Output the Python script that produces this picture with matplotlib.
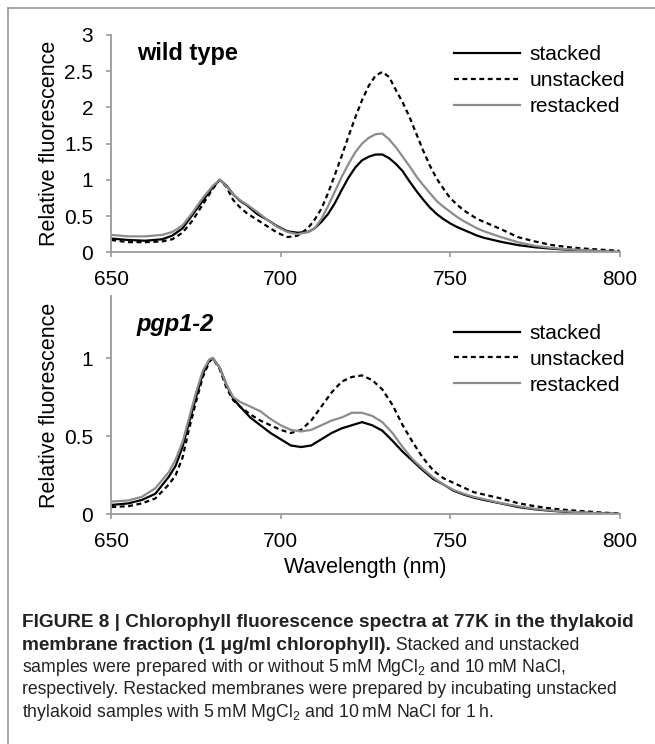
import matplotlib
matplotlib.use('Agg')
import matplotlib.pyplot as plt
from matplotlib import font_manager
from matplotlib.lines import Line2D

# values (Relative fluorescence, normalised at ~680 nm)
wl_wt = [650, 655, 660, 665, 668, 671, 674, 677, 680, 682, 684, 686, 688, 690, 693, 696, 699,
         702, 705, 708, 710, 712, 714, 716, 718, 720, 722, 724, 726, 728, 730, 732, 734, 736,
         738, 740, 742, 744, 746, 748, 750, 752, 754, 756, 758, 760, 765, 770, 775, 780, 785,
         790, 795, 800]
wt_stacked = [0.19, 0.17, 0.16, 0.18, 0.23, 0.33, 0.52, 0.71, 0.90, 1.00, 0.92, 0.80, 0.71, 0.65,
              0.53, 0.45, 0.36, 0.29, 0.27, 0.28, 0.33, 0.42, 0.53, 0.68, 0.86, 1.03, 1.17, 1.27,
              1.32, 1.35, 1.35, 1.30, 1.22, 1.12, 0.98, 0.85, 0.73, 0.62, 0.53, 0.46, 0.40, 0.35,
              0.31, 0.27, 0.23, 0.20, 0.145, 0.10, 0.07, 0.05, 0.035, 0.025, 0.013, 0.003]
wt_unstacked = [0.17, 0.14, 0.14, 0.15, 0.18, 0.27, 0.44, 0.66, 0.88, 1.00, 0.90, 0.72, 0.62, 0.54,
                0.45, 0.36, 0.27, 0.21, 0.23, 0.33, 0.45, 0.60, 0.82, 1.07, 1.33, 1.60, 1.86, 2.10,
                2.30, 2.44, 2.49, 2.42, 2.24, 2.07, 1.87, 1.64, 1.41, 1.20, 1.02, 0.88, 0.75, 0.66,
                0.58, 0.52, 0.46, 0.42, 0.32, 0.21, 0.15, 0.10, 0.07, 0.05, 0.035, 0.02]
wt_restacked = [0.24, 0.22, 0.22, 0.24, 0.28, 0.37, 0.55, 0.75, 0.92, 1.00, 0.91, 0.80, 0.72, 0.66,
                0.56, 0.45, 0.35, 0.28, 0.25, 0.28, 0.33, 0.46, 0.64, 0.84, 1.04, 1.22, 1.38, 1.50,
                1.58, 1.63, 1.64, 1.56, 1.45, 1.32, 1.19, 1.05, 0.93, 0.82, 0.71, 0.63, 0.56, 0.49,
                0.43, 0.38, 0.33, 0.29, 0.21, 0.14, 0.09, 0.06, 0.04, 0.03, 0.015, 0.005]

wl_pgp = [650, 655, 659, 663, 667, 669, 671, 673, 675, 677, 679, 680, 682, 684, 686, 688, 691, 694,
          697, 700, 703, 706, 709, 712, 715, 718, 721, 724, 727, 730, 733, 736, 739, 742, 745, 748,
          751, 754, 757, 760, 765, 770, 775, 780, 785, 790, 795, 800]
pgp_stacked = [0.058, 0.068, 0.09, 0.13, 0.24, 0.31, 0.43, 0.59, 0.75, 0.90, 0.99, 1.00, 0.94, 0.83,
               0.74, 0.69, 0.62, 0.57, 0.52, 0.48, 0.44, 0.43, 0.44, 0.48, 0.52, 0.55, 0.57, 0.59,
               0.57, 0.535, 0.47, 0.40, 0.34, 0.28, 0.225, 0.19, 0.15, 0.125, 0.105, 0.09, 0.068,
               0.045, 0.03, 0.02, 0.013, 0.008, 0.004, 0.0]
pgp_unstacked = [0.045, 0.05, 0.068, 0.10, 0.19, 0.25, 0.36, 0.55, 0.72, 0.88, 0.98, 1.00, 0.93, 0.81,
                 0.73, 0.69, 0.64, 0.60, 0.57, 0.54, 0.52, 0.54, 0.60, 0.69, 0.78, 0.85, 0.88, 0.89,
                 0.86, 0.80, 0.70, 0.57, 0.46, 0.36, 0.28, 0.23, 0.20, 0.17, 0.14, 0.125, 0.10,
                 0.07, 0.05, 0.035, 0.025, 0.017, 0.009, 0.003]
pgp_restacked = [0.08, 0.087, 0.11, 0.165, 0.27, 0.35, 0.46, 0.62, 0.78, 0.92, 0.995, 1.00, 0.94, 0.83,
                 0.75, 0.72, 0.69, 0.66, 0.61, 0.57, 0.54, 0.53, 0.54, 0.57, 0.60, 0.62, 0.65, 0.65,
                 0.63, 0.59, 0.52, 0.43, 0.35, 0.29, 0.235, 0.19, 0.155, 0.13, 0.11, 0.095, 0.07,
                 0.05, 0.033, 0.022, 0.015, 0.009, 0.004, 0.001]

series_labels = ['stacked', 'unstacked', 'restacked']
x_ticks = [650, 700, 750, 800]
wt_yticks = [0, 0.5, 1, 1.5, 2, 2.5, 3]
pgp_yticks = [0, 0.5, 1]
panel_names = ['wild type', 'pgp1-2']

caption_lines = [
    'FIGURE 8 | Chlorophyll fluorescence spectra at 77K in the thylakoid',
    'membrane fraction (1 \u03bcg/ml chlorophyll).',
    ' Stacked and unstacked',
    'samples were prepared with or without 5\u2009mM MgCl$_\\mathregular{2}$ and 10\u2009mM NaCl,',
    'respectively. Restacked membranes were prepared by incubating unstacked',
    'thylakoid samples with 5\u2009mM MgCl$_\\mathregular{2}$ and 10\u2009mM NaCl for 1\u2009h.',
]

installed = {f.name for f in font_manager.fontManager.ttflist}
main_font = 'Liberation Sans' if 'Liberation Sans' in installed else 'DejaVu Sans'
cap_font = 'Liberation Sans Narrow' if 'Liberation Sans Narrow' in installed else main_font

plt.rcParams['font.family'] = [main_font, 'DejaVu Sans']
plt.rcParams['mathtext.fontset'] = 'custom'
plt.rcParams['mathtext.rm'] = cap_font

W, H = 655, 744
fig = plt.figure(figsize=(W / 100, H / 100), dpi=100)
fig.patch.set_facecolor('white')

grey_axis = '#9a9a9a'
line_styles = [dict(color='black', lw=1.6, ls='-'),
               dict(color='black', lw=1.6, ls=(0, (2.2, 1.6))),
               dict(color='#8c8c8c', lw=1.6, ls='-')]

ax1 = fig.add_axes([111.3 / W, 1 - 252.3 / H, 508.2 / W, 217.3 / H])
ax2 = fig.add_axes([111.3 / W, 1 - 514 / H, 508.2 / W, 218 / H])


def draw_panel(ax, wl, curves, yticks, ymax, name, italic, leg_y, name_y):
    for vals, lab, st in zip(curves, series_labels, line_styles):
        ax.plot(wl, vals, label=lab, **st)
    ax.set_xlim(650, 800)
    ax.set_ylim(0, ymax)
    ax.set_xticks(x_ticks)
    ax.set_xticklabels([str(t) for t in x_ticks])
    ax.set_yticks(yticks)
    ax.set_yticklabels(['%g' % t for t in yticks])
    for s in ['top', 'right']:
        ax.spines[s].set_visible(False)
    for s in ['left', 'bottom']:
        ax.spines[s].set_color(grey_axis)
        ax.spines[s].set_linewidth(1.3)
    ax.tick_params(axis='both', direction='out', length=3.5, width=1.2, color=grey_axis,
                   labelsize=15, pad=9.5)
    ax.set_ylabel('Relative fluorescence', fontsize=15.5)
    ax.yaxis.set_label_coords(-0.1, 0.5)
    ax.text(0.05, name_y, name, transform=ax.transAxes, fontsize=17, fontweight='bold',
            fontstyle='italic' if italic else 'normal', va='baseline', ha='left')
    ax.legend(loc='center left', bbox_to_anchor=(0.674, leg_y), frameon=False, fontsize=15,
              handlelength=3.2, handletextpad=0.42, labelspacing=0.33, borderpad=0,
              borderaxespad=0)


draw_panel(ax1, wl_wt, [wt_stacked, wt_unstacked, wt_restacked], wt_yticks, 3,
           panel_names[0], False, 0.789, 0.885)
draw_panel(ax2, wl_pgp, [pgp_stacked, pgp_unstacked, pgp_restacked], pgp_yticks, 1.4,
           panel_names[1], True, 0.71, 0.841)
ax2.set_xlabel('Wavelength (nm)', fontsize=15.5)
ax2.xaxis.set_label_coords(0.5, -0.195)

# frame round the figure panel
fig.add_artist(Line2D([7.5 / W, 1], [1 - 8.3 / H] * 2, transform=fig.transFigure,
                      color='#8f8f8f', lw=1.1))
fig.add_artist(Line2D([7.5 / W] * 2, [0, 1 - 8.3 / H], transform=fig.transFigure,
                      color='#8f8f8f', lw=1.1))

# caption, sized so that lines span the same width as in the original
fig.canvas.draw()
r = fig.canvas.get_renderer()
x0 = 22 / W
probe = fig.text(x0, 0, caption_lines[4], fontsize=14, family=cap_font)
cap_size = 14 * 602 / probe.get_window_extent(r).width
probe.remove()
probe = fig.text(x0, 0, caption_lines[0], fontsize=14, family=cap_font, fontweight='bold')
bold_size = 14 * 611 / probe.get_window_extent(r).width
probe.remove()

baselines = [627, 649.5, 672, 694.5, 717]
kw = dict(family=cap_font, va='baseline', ha='left', color='#222222')
fig.text(x0, 1 - baselines[0] / H, caption_lines[0], fontweight='bold', fontsize=bold_size, **kw)
t_bold = fig.text(x0, 1 - baselines[1] / H, caption_lines[1], fontweight='bold',
                  fontsize=bold_size, **kw)
bb = t_bold.get_window_extent(r)
fig.text(bb.x1 / W, 1 - baselines[1] / H, caption_lines[2], fontsize=cap_size, **kw)
fig.text(x0, 1 - baselines[2] / H, caption_lines[3], fontsize=cap_size, **kw)
fig.text(x0, 1 - baselines[3] / H, caption_lines[4], fontsize=cap_size, **kw)
fig.text(x0, 1 - baselines[4] / H, caption_lines[5], fontsize=cap_size, **kw)

fig.savefig('out.png', dpi=100)
